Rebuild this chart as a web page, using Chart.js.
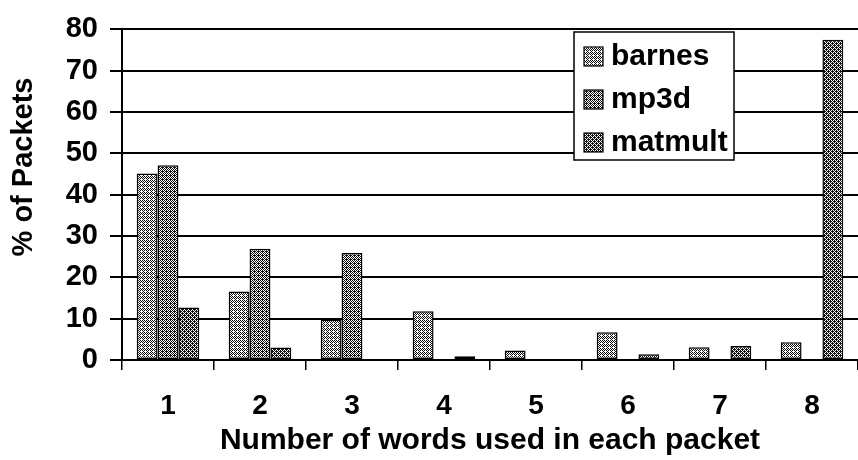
<!DOCTYPE html>
<html>
<head>
<meta charset="utf-8">
<script src="https://cdn.jsdelivr.net/npm/chart.js@4.4.1/dist/chart.umd.min.js"></script>
<style>
  html, body { margin: 0; padding: 0; background: #fff; }
  #wrap { width: 858px; height: 460px; }
</style>
</head>
<body>
<div id="wrap"><canvas id="packetChart" width="858" height="460"></canvas></div>
<script>
const categories = ['1', '2', '3', '4', '5', '6', '7', '8'];
const seriesNames = ['barnes', 'mp3d', 'matmult'];
const barnes = [45.1, 16.6, 9.8, 11.8, 2.3, 6.7, 3.1, 4.3];
const mp3d = [47.1, 26.9, 25.9, 0, 0, 0, 0, 0];
const matmult = [12.7, 3.0, 0.2, 0.9, 0.2, 1.4, 3.4, 77.5];
const yTicks = [0, 10, 20, 30, 40, 50, 60, 70, 80];

const FONT = '"Liberation Sans", Arial, Helvetica, sans-serif';

// halftone-ish fills like the scanned figure
function makePattern(rows) {
  const tile = document.createElement('canvas');
  tile.width = rows[0].length;
  tile.height = rows.length;
  const t = tile.getContext('2d');
  rows.forEach((row, y) => {
    for (let x = 0; x < row.length; x++) {
      t.fillStyle = row[x] === '1' ? '#111' : '#fff';
      t.fillRect(x, y, 1, 1);
    }
  });
  return document.createElement('canvas').getContext('2d').createPattern(tile, 'repeat');
}

const fills = [
  makePattern(['1010', '0101', '1010', '0001']),
  makePattern(['1010', '0101', '1010', '0111']),
  makePattern(['1010', '0111', '1010', '1101'])
];

const datasets = [barnes, mp3d, matmult].map((values, i) => ({
  label: seriesNames[i],
  data: values,
  backgroundColor: fills[i],
  borderColor: '#000',
  borderWidth: 1.5,
  borderSkipped: false,
  categoryPercentage: 0.68,
  barPercentage: 1.0
}));

// legend box and rotated y title drawn on top
const extras = {
  id: 'extras',
  afterDraw(chart) {
    const ctx = chart.ctx;
    ctx.save();
    ctx.fillStyle = '#000';
    ctx.font = 'bold 29px ' + FONT;
    ctx.textAlign = 'center';
    ctx.textBaseline = 'middle';
    ctx.translate(24, 167);
    ctx.rotate(-Math.PI / 2);
    ctx.fillText('% of Packets', 0, 0);
    ctx.restore();

    ctx.save();
    ctx.fillStyle = '#fff';
    ctx.fillRect(574, 32, 160, 128);
    ctx.strokeStyle = '#000';
    ctx.lineWidth = 1.5;
    ctx.strokeRect(574, 32, 160, 128);
    ctx.font = 'bold 30px ' + FONT;
    ctx.textAlign = 'left';
    ctx.textBaseline = 'middle';
    chart.data.datasets.forEach((ds, i) => {
      const cy = 56 + i * 43;
      ctx.fillStyle = ds.backgroundColor;
      ctx.fillRect(584, cy - 9, 19, 19);
      ctx.strokeStyle = '#000';
      ctx.lineWidth = 1.2;
      ctx.strokeRect(584, cy - 9, 19, 19);
      ctx.fillStyle = '#000';
      ctx.fillText(ds.label, 611, cy + 1);
    });
    ctx.restore();
  }
};

const ctx = document.getElementById('packetChart').getContext('2d');
const chart = new Chart(ctx, {
  type: 'bar',
  data: { labels: categories, datasets: datasets },
  options: {
    responsive: false,
    animation: false,
    layout: { padding: { top: 20, right: 0, bottom: 0, left: 0 } },
    plugins: {
      legend: { display: false },
      tooltip: { enabled: false }
    },
    scales: {
      x: {
        afterFit: scale => { scale.height = 100; },
        grid: {
          offset: true,
          drawOnChartArea: false,
          drawTicks: true,
          tickLength: 10,
          color: '#000',
          lineWidth: 1.5
        },
        border: { color: '#000', width: 2 },
        ticks: {
          color: '#000',
          padding: 19,
          font: { family: FONT, size: 28, weight: 'bold' }
        },
        title: {
          display: true,
          text: 'Number of words used in each packet',
          color: '#000',
          font: { family: FONT, size: 30, weight: 'bold', lineHeight: 1 },
          padding: { top: 0, bottom: 4 }
        }
      },
      y: {
        min: 0,
        max: 80,
        afterFit: scale => { scale.width = 122; },
        afterBuildTicks: scale => { scale.ticks = yTicks.map(v => ({ value: v })); },
        grid: {
          color: '#000',
          lineWidth: 2,
          drawTicks: true,
          tickLength: 12
        },
        border: { color: '#000', width: 2 },
        ticks: {
          color: '#000',
          padding: 12,
          font: { family: FONT, size: 29, weight: 'bold' }
        }
      }
    }
  },
  plugins: [extras]
});
</script>
</body>
</html>
